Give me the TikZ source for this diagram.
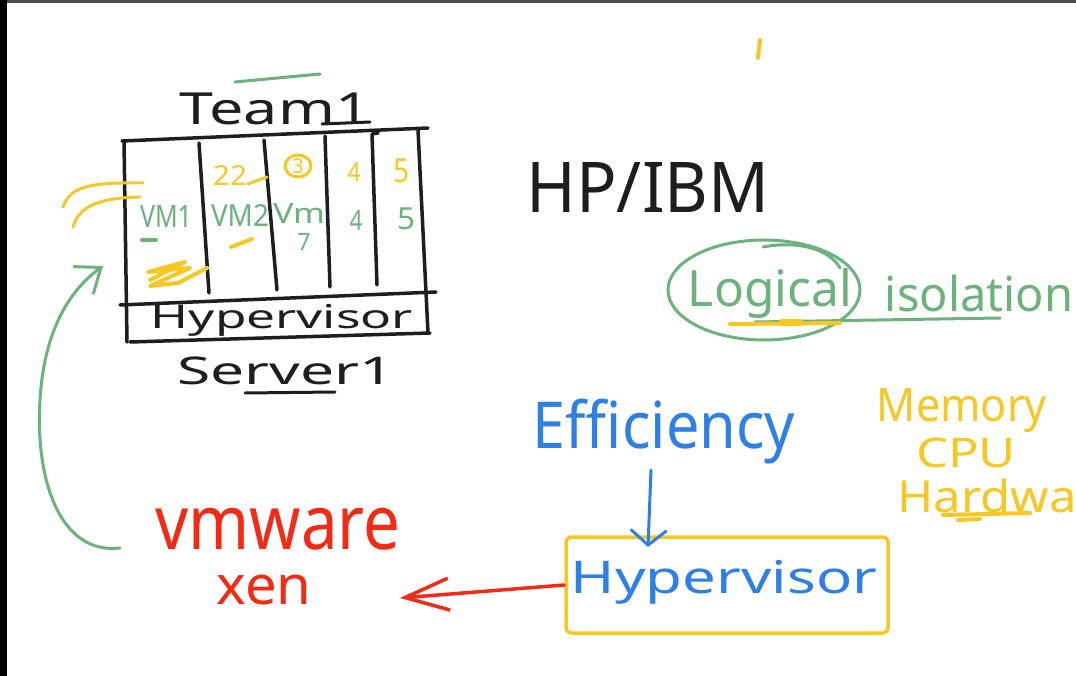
\documentclass[tikz,border=0pt]{standalone}
\usepackage{fontspec}
\setmainfont{Noto Sans}
\usepackage{graphicx}
\usetikzlibrary{arrows.meta}
\definecolor{ink}{HTML}{1E1E1E}
\definecolor{gr}{HTML}{6DB27C}
\definecolor{yl}{HTML}{F7C824}
\definecolor{bl}{HTML}{2F80E6}
\definecolor{rd}{HTML}{F52A14}
\definecolor{bar}{HTML}{4D4D4D}
\newcommand\fitbox[3]{\resizebox*{#1pt}{#2pt}{#3}}
\begin{document}
\begin{tikzpicture}[x=1pt,y=-1pt,line cap=round,line join=round,
  lbl/.style={inner sep=0pt,outer sep=0pt},
  inkline/.style={draw=ink,line width=3.5pt},
  grline/.style={draw=gr,line width=3pt},
  ylline/.style={draw=yl,line width=3pt},
  grarrow/.style={draw=gr,line width=3pt,-{Straight Barb[length=22pt,width=34pt]}},
  redarrow/.style={draw=rd,line width=3.5pt,-{Straight Barb[length=44pt,width=32pt]}},
  bluearrow/.style={draw=bl,line width=3pt,-{Straight Barb[length=15pt,width=36pt]}},
  ylbox/.style={draw=yl,line width=3.5pt,rounded corners=5pt,inner sep=0pt}]
\useasboundingbox (0,0) rectangle (1076,676);
\fill[white] (0,0) rectangle (1076,676);
\fill[bar] (0,0) rectangle (1076,3);
\fill[black] (0,0) rectangle (7,676);

% ---- server box ----
\draw[inkline] (122,141) -- (428,128);
\draw[inkline] (124,141) -- (127,342);
\draw[inkline] (418,130) -- (428,333);
\draw[inkline] (120,305) -- (436,292);
\draw[inkline] (130,342) -- (430,333);
\draw[inkline] (199,143) -- (209,293);
\draw[inkline] (264,140) -- (277,290);
\draw[inkline] (325,136) -- (330,287);
\draw[inkline] (378,133) -- (372,134) -- (377,285);

% ---- texts ----
\node[lbl,text=ink] (team) at (275,109) {\fitbox{190}{32}{Team1}};
\draw[inkline,line width=3pt] (322,124) -- (370,122);
\draw[grline] (235,82) -- (320,74);
\node[lbl,text=ink] (hyp) at (282,320) {\fitbox{262}{32}{Hypervisor}};
\node[lbl,text=ink] (server) at (286,371) {\fitbox{217}{28}{Server1}};
\draw[inkline,line width=3pt] (245,393) -- (335,392);

\node[lbl,text=gr] (vm1) at (166,216) {\fitbox{52}{22}{VM1}};
\node[lbl,text=gr] (vm2) at (240,215) {\fitbox{58}{22}{VM2}};
\node[lbl,text=gr] (vm3) at (299,213) {\fitbox{52}{20}{Vm}};
\node[lbl,text=gr] (vm3b) at (304,242) {\fitbox{13}{17}{7}};
\node[lbl,text=gr] (vm4) at (356,221) {\fitbox{13}{20}{4}};
\node[lbl,text=gr] (vm5) at (406,219) {\fitbox{18}{22}{5}};
\node[lbl,text=yl] (n2) at (230,175) {\fitbox{34}{20}{22}};
\node[lbl,text=yl] (n3) at (298,166) {\fitbox{11}{15}{3}};
\node[lbl,text=yl] (n4) at (354,172) {\fitbox{13}{19}{4}};
\node[lbl,text=yl] (n5) at (401,171) {\fitbox{16}{24}{5}};
\draw[ylline] (298,166) circle [x radius=13, y radius=11];
\draw[ylline] (248,184) -- (267,177);
\draw[grline,line width=4pt] (142,240) -- (156,240);
\draw[ylline,line width=4pt] (231,247) -- (252,239);
\draw[ylline,line width=4pt] (150,280) -- (185,262) -- (148,272) -- (190,268) -- (150,286) -- (178,283) -- (207,268);
\draw[ylline] (63,207) .. controls (70,188) and (85,182) .. (143,183);
\draw[ylline] (73,227) .. controls (78,210) and (92,198) .. (140,197);

\node[lbl,text=ink] (hpibm) at (648,187) {\fitbox{243}{50}{HP/IBM}};

\node[lbl,text=gr] (logical) at (770,293) {\fitbox{164}{50}{Logical}};
\node[lbl,text=gr] (isol) at (979,293) {\fitbox{188}{37}{isolation}};
\draw[grline] (764,290) ellipse [x radius=96, y radius=50];
\draw[grline] (763,247) .. controls (800,240) and (830,250) .. (840,268);
\draw[grline] (755,322) -- (1000,318);
\draw[ylline,line width=4pt] (730,324) -- (840,323);
\draw[ylline,line width=7pt] (782,322) -- (800,322);

\node[lbl,text=bl] (eff) at (664,432) {\fitbox{262}{65}{Efficiency}};
\node[lbl,text=yl] (mem) at (962,411) {\fitbox{170}{44}{Memory}};
\node[lbl,text=yl] (cpu) at (966,453) {\fitbox{100}{30}{CPU}};
\node[lbl,text=yl] (hw) at (987,496) {\fitbox{179}{34}{Hardwa}};
\draw[ylline,line width=4pt] (943,515) -- (1030,513);
\draw[ylline,line width=4pt] (958,520) -- (980,519);
\draw[ylline,line width=4pt] (760,40) -- (758,58);

\node[ylbox,minimum width=322pt,minimum height=96pt] (hbox) at (727,585) {};
\node[lbl,text=bl] (hyp2) at (724,582) {\fitbox{306}{44}{Hypervisor}};

\node[lbl,text=rd] (vmw) at (278,529) {\fitbox{245}{42}{vmware}};
\node[lbl,text=rd] (xen) at (264,590) {\fitbox{95}{30}{xen}};

% ---- connectors ----
\coordinate (bstart) at (651,470);
\coordinate (bend) at (648,547);
\draw[bluearrow] (bstart) -- (bend);
\coordinate (rtip) at (400,598);
\draw[redarrow] (hbox.west) -- (rtip);
\coordinate (gstart) at (120,548);
\coordinate (gtip) at (103,266);
\draw[grarrow] (gstart) .. controls (60,555) and (35,480) .. (40,400)
  .. controls (44,330) and (70,290) .. (gtip);
\end{tikzpicture}
\end{document}
